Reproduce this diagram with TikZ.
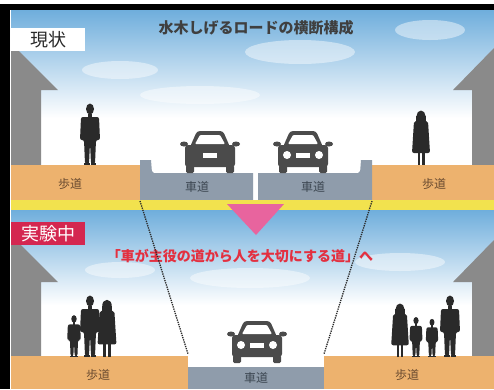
\documentclass[tikz,border=0pt]{standalone}
\usepackage{fontspec}
\newfontfamily\cjk{Noto Sans CJK JP}
\usetikzlibrary{shapes, arrows}

\definecolor{walkway}{HTML}{EDB26E}
\definecolor{roadway}{HTML}{8F9CAB}
\definecolor{wallgray}{HTML}{8A8A8A}
\definecolor{carbody}{HTML}{4B4B4B}
\definecolor{skyblue}{HTML}{6FAEDC}
\definecolor{stripe}{HTML}{F2E24E}
\definecolor{arrowpink}{HTML}{E8649E}
\definecolor{tagred}{HTML}{D42750}
\definecolor{msgred}{HTML}{E33040}
\definecolor{shadow}{HTML}{2A2A2A}
\definecolor{walktext}{HTML}{6A4B30}
\definecolor{roadtext}{HTML}{3D4752}

\tikzset{
  % front view of a car, origin at the bottom of the wheels
  car/.pic={
    \fill[carbody, rounded corners=1.5] (-24,-8) rectangle (-16,0);
    \fill[carbody, rounded corners=1.5] (16,-8) rectangle (24,0);
    \fill[carbody, rounded corners=3] (-20,-26) -- (-13,-42) -- (13,-42) -- (20,-26) -- cycle;
    \fill[carbody, rounded corners=3] (-25,-28) rectangle (25,-6);
    \fill[carbody] (-26,-29) ellipse (4 and 2.5);
    \fill[carbody] (26,-29) ellipse (4 and 2.5);
    \fill[white, rounded corners=1] (-15,-29) -- (-10,-38) -- (10,-38) -- (15,-29) -- cycle;
    \fill[white] (-7,-20) rectangle (7,-15);
  },
  lamps/.pic={
    \fill[white] (-16,-18) circle (4);
    \fill[white] (16,-18) circle (4);
  },
  % silhouettes, origin at the feet
  man/.pic={
    \fill[shadow] (0,-56) ellipse (4 and 5.5);
    \fill[shadow] (-2,-51) rectangle (2,-46);
    \fill[shadow, rounded corners=2] (-9,-48) -- (9,-48) -- (10,-25) -- (6,-25) -- (5,-1)
      -- (1,-1) -- (0,-22) -- (-1,-1) -- (-5,-1) -- (-6,-25) -- (-10,-25) -- cycle;
    \fill[shadow] (-6,-2) rectangle (-0.5,0);
    \fill[shadow] (0.5,-2) rectangle (6,0);
  },
  woman/.pic={
    \fill[shadow] (0,-49) ellipse (4.5 and 5.5);
    \fill[shadow] (-5,-49) rectangle (5,-40);
    \fill[shadow, rounded corners=2] (-7,-44) -- (7,-44) -- (9,-12) -- (-9,-12) -- cycle;
    \fill[shadow] (-3.5,-12) rectangle (-1,0);
    \fill[shadow] (1,-12) rectangle (3.5,0);
  },
  walklabel/.style={font=\cjk\fontsize{12}{12}\selectfont, text=walktext},
  roadlabel/.style={font=\cjk\fontsize{12}{12}\selectfont, text=roadtext},
  tagbox/.style={anchor=north west, minimum width=74, minimum height=23, inner sep=0,
    font=\cjk\fontsize{18}{18}\selectfont},
  guide/.style={densely dotted, line width=1.3pt, shadow},
  cloud/.style={white, opacity=.45}
}

\begin{document}
\begin{tikzpicture}[x=1pt, y=-1pt]
  \useasboundingbox (0,0) rectangle (494,389);
  \fill[white] (0,0) rectangle (494,389);

  % current state
  \shade[top color=skyblue, bottom color=white] (11,10) rectangle (494,118);
  \fill[white] (11,118) rectangle (494,165);
  \fill[cloud] (120,70) ellipse (38 and 9);
  \fill[cloud] (300,52) ellipse (55 and 12);
  \fill[cloud] (430,30) ellipse (35 and 10);
  \fill[cloud] (200,95) ellipse (60 and 9);
  \fill[wallgray] (11,43) -- (58,90) -- (41,90) -- (41,165) -- (11,165) -- cycle;
  \fill[wallgray] (494,48) -- (453,90) -- (472,90) -- (472,165) -- (494,165) -- cycle;
  \fill[walkway] (11,165) rectangle (140,200);
  \fill[walkway] (372,165) rectangle (494,200);
  \fill[roadway] (140,200) -- (140,160) -- (151,160) [rounded corners=2] -- (152,173)
    [sharp corners] -- (253,173) -- (253,200) -- cycle;
  \fill[roadway] (258,200) -- (258,173) [rounded corners=2] -- (360,173)
    [sharp corners] -- (361,160) -- (372,160) -- (372,200) -- cycle;
  \pic at (210,173) {car};
  \pic at (303,173) {car};
  \pic at (303,173) {lamps};
  \pic at (90,165) {man};
  \pic at (421,165) {woman};
  \fill[stripe] (11,200) rectangle (494,210);

  \node[tagbox, fill=white, text=shadow] (now) at (11,28) {現状};
  \node[font=\cjk\bfseries\fontsize{15}{15}\selectfont, text=shadow!90] (title) at (256,28)
    {水木しげるロードの横断構成};
  \node[walklabel] (walk1) at (70,184) {歩道};
  \node[roadlabel] (road1) at (197,187) {車道};
  \node[roadlabel] (road2) at (313,187) {車道};
  \node[walklabel] (walk2) at (434,184) {歩道};

  % during the trial
  \shade[top color=skyblue, bottom color=white] (11,210) rectangle (494,305);
  \fill[white] (11,305) rectangle (494,356);
  \fill[cloud] (250,278) ellipse (60 and 10);
  \fill[cloud] (120,270) ellipse (35 and 8);
  \fill[cloud] (400,262) ellipse (45 and 9);
  \fill[wallgray] (11,235) -- (58,282) -- (41,282) -- (41,357) -- (11,357) -- cycle;
  \fill[wallgray] (494,240) -- (453,282) -- (472,282) -- (472,357) -- (494,357) -- cycle;
  \fill[walkway] (11,356) rectangle (188,389);
  \fill[walkway] (324,356) rectangle (494,389);
  \fill[roadway] (188,367) rectangle (324,389);
  \pic at (257,363) {car};
  \pic at (257,363) {lamps};
  \pic[scale=.68] at (74,357) {man};
  \pic at (90,357) {man};
  \pic[scale=1.05] at (107,357) {woman};
  \pic[scale=.98] at (400,357) {woman};
  \pic[scale=.65] at (416,357) {man};
  \pic[scale=.62] at (432,357) {man};
  \pic at (450,357) {man};

  \fill[arrowpink] (227,204) -- (284,204) -- (256,235) -- cycle;
  \node[tagbox, fill=tagred, text=white] (trial) at (11,222) {実験中};
  \node[font=\cjk\bfseries\fontsize{14}{14}\selectfont, text=msgred] (motto) at (240,256)
    {「車が主役の道から人を大切にする道」へ};
  \node[walklabel] (walk3) at (98,375) {歩道};
  \node[roadlabel] (road3) at (256,378) {車道};
  \node[walklabel] (walk4) at (407,375) {歩道};

  % road edges before and after
  \coordinate (oldleft) at (140,201);
  \coordinate (oldright) at (372,201);
  \coordinate (newleft) at (188,354);
  \coordinate (newright) at (324,354);
  \draw[guide] (oldleft) -- (newleft);
  \draw[guide] (oldright) -- (newright);

  % frame
  \fill[black] (0,4) rectangle (494,10);
  \fill[black] (0,4) rectangle (10,389);
\end{tikzpicture}
\end{document}
